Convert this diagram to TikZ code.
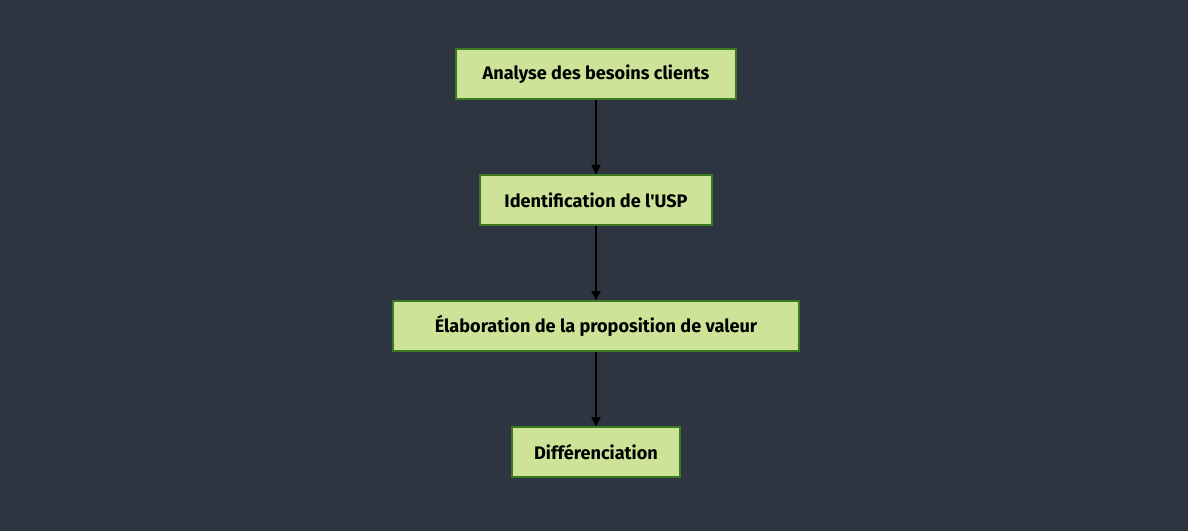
\documentclass[tikz,border=0pt]{standalone}
\usepackage{fontspec}
\newfontfamily\boxfont{Fira Sans}
\usetikzlibrary{positioning}
\usetikzlibrary{arrows.meta}
\definecolor{bgdark}{HTML}{2E3440}
\definecolor{boxfill}{HTML}{CDE498}
\definecolor{boxline}{HTML}{3B7A23}
\tikzstyle{stepnode}=[rectangle,fill=boxfill,draw=boxline,line width=1pt,minimum height=37.5pt,inner sep=0pt,font=\boxfont\bfseries\fontsize{13.6}{15}\selectfont,text=black]
\tikzstyle{flow} = [draw,line width=1.1pt,-{Triangle[length=7pt,width=7pt]}]

\begin{document}
\begin{tikzpicture}[x=0.75pt,y=0.75pt]

    % background
    \fill[bgdark] (0,0) rectangle (1188,-531);
    \useasboundingbox (0,0) rectangle (1188,-531);

    % the steps
    \foreach \pos/\name/\boxw/\label in {{(596,-74)/analyse/210pt/Analyse des besoins clients}, {(596,-200)/usp/174pt/Identification de l'USP}, {(596,-326)/valeur/304.5pt/Élaboration de la proposition de valeur}, {(596,-452)/diff/126pt/Différenciation}}
        \node[stepnode, minimum width=\boxw] (\name) at \pos {\label};

    % connect the steps
    \foreach \source/\dest in {analyse/usp, usp/valeur, valeur/diff}
        \path[flow] (\source) -- (\dest);

\end{tikzpicture}
\end{document}
